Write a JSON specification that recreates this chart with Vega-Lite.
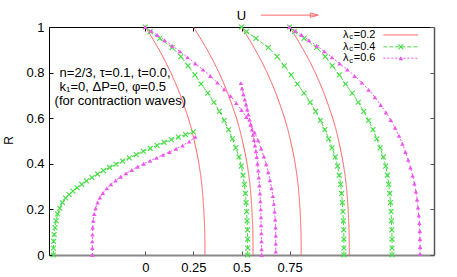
{
  "$schema": "https://vega.github.io/schema/vega-lite/v6.json",
  "width": 385,
  "height": 228,
  "autosize": "none",
  "padding": {"left": 49, "top": 27, "right": 23, "bottom": 22},
  "background": "white",
  "config": {
    "view": {"stroke": null},
    "font": "Liberation Sans",
    "axis": {
      "grid": false,
      "labelFont": "Liberation Sans",
      "labelFontSize": 13,
      "labelColor": "#000",
      "titleFont": "Liberation Sans",
      "titleFontSize": 12,
      "titleFontWeight": "normal",
      "titleColor": "#000",
      "tickColor": "#000",
      "domainColor": "#000",
      "tickSize": -4,
      "labelPadding": 9
    }
  },
  "datasets": {
    "curves": [
      {"c":"r1","l":"0.2","x":0,"R":1},{"c":"r1","l":"0.2","x":0.023,"R":0.97},{"c":"r1","l":"0.2","x":0.044,"R":0.94},{"c":"r1","l":"0.2","x":0.072,"R":0.9},{"c":"r1","l":"0.2","x":0.104,"R":0.85},{"c":"r1","l":"0.2","x":0.133,"R":0.8},{"c":"r1","l":"0.2","x":0.159,"R":0.75},{"c":"r1","l":"0.2","x":0.183,"R":0.7},{"c":"r1","l":"0.2","x":0.204,"R":0.65},{"c":"r1","l":"0.2","x":0.224,"R":0.6},{"c":"r1","l":"0.2","x":0.241,"R":0.55},{"c":"r1","l":"0.2","x":0.255,"R":0.5},{"c":"r1","l":"0.2","x":0.268,"R":0.45},{"c":"r1","l":"0.2","x":0.279,"R":0.4},{"c":"r1","l":"0.2","x":0.288,"R":0.35},{"c":"r1","l":"0.2","x":0.295,"R":0.3},{"c":"r1","l":"0.2","x":0.3,"R":0.25},{"c":"r1","l":"0.2","x":0.304,"R":0.2},{"c":"r1","l":"0.2","x":0.307,"R":0.15},{"c":"r1","l":"0.2","x":0.309,"R":0.1},{"c":"r1","l":"0.2","x":0.31,"R":0.05},{"c":"r1","l":"0.2","x":0.31,"R":0},
      {"c":"r2","l":"0.2","x":0.25,"R":1},{"c":"r2","l":"0.2","x":0.273,"R":0.97},{"c":"r2","l":"0.2","x":0.294,"R":0.94},{"c":"r2","l":"0.2","x":0.322,"R":0.9},{"c":"r2","l":"0.2","x":0.354,"R":0.85},{"c":"r2","l":"0.2","x":0.383,"R":0.8},{"c":"r2","l":"0.2","x":0.409,"R":0.75},{"c":"r2","l":"0.2","x":0.433,"R":0.7},{"c":"r2","l":"0.2","x":0.454,"R":0.65},{"c":"r2","l":"0.2","x":0.474,"R":0.6},{"c":"r2","l":"0.2","x":0.491,"R":0.55},{"c":"r2","l":"0.2","x":0.505,"R":0.5},{"c":"r2","l":"0.2","x":0.518,"R":0.45},{"c":"r2","l":"0.2","x":0.529,"R":0.4},{"c":"r2","l":"0.2","x":0.538,"R":0.35},{"c":"r2","l":"0.2","x":0.545,"R":0.3},{"c":"r2","l":"0.2","x":0.55,"R":0.25},{"c":"r2","l":"0.2","x":0.554,"R":0.2},{"c":"r2","l":"0.2","x":0.557,"R":0.15},{"c":"r2","l":"0.2","x":0.559,"R":0.1},{"c":"r2","l":"0.2","x":0.56,"R":0.05},{"c":"r2","l":"0.2","x":0.56,"R":0},
      {"c":"r3","l":"0.2","x":0.5,"R":1},{"c":"r3","l":"0.2","x":0.523,"R":0.97},{"c":"r3","l":"0.2","x":0.544,"R":0.94},{"c":"r3","l":"0.2","x":0.572,"R":0.9},{"c":"r3","l":"0.2","x":0.604,"R":0.85},{"c":"r3","l":"0.2","x":0.633,"R":0.8},{"c":"r3","l":"0.2","x":0.659,"R":0.75},{"c":"r3","l":"0.2","x":0.683,"R":0.7},{"c":"r3","l":"0.2","x":0.704,"R":0.65},{"c":"r3","l":"0.2","x":0.724,"R":0.6},{"c":"r3","l":"0.2","x":0.741,"R":0.55},{"c":"r3","l":"0.2","x":0.755,"R":0.5},{"c":"r3","l":"0.2","x":0.768,"R":0.45},{"c":"r3","l":"0.2","x":0.779,"R":0.4},{"c":"r3","l":"0.2","x":0.788,"R":0.35},{"c":"r3","l":"0.2","x":0.795,"R":0.3},{"c":"r3","l":"0.2","x":0.8,"R":0.25},{"c":"r3","l":"0.2","x":0.804,"R":0.2},{"c":"r3","l":"0.2","x":0.807,"R":0.15},{"c":"r3","l":"0.2","x":0.809,"R":0.1},{"c":"r3","l":"0.2","x":0.81,"R":0.05},{"c":"r3","l":"0.2","x":0.81,"R":0},
      {"c":"r4","l":"0.2","x":0.75,"R":1},{"c":"r4","l":"0.2","x":0.773,"R":0.97},{"c":"r4","l":"0.2","x":0.794,"R":0.94},{"c":"r4","l":"0.2","x":0.822,"R":0.9},{"c":"r4","l":"0.2","x":0.854,"R":0.85},{"c":"r4","l":"0.2","x":0.883,"R":0.8},{"c":"r4","l":"0.2","x":0.909,"R":0.75},{"c":"r4","l":"0.2","x":0.933,"R":0.7},{"c":"r4","l":"0.2","x":0.954,"R":0.65},{"c":"r4","l":"0.2","x":0.974,"R":0.6},{"c":"r4","l":"0.2","x":0.991,"R":0.55},{"c":"r4","l":"0.2","x":1.005,"R":0.5},{"c":"r4","l":"0.2","x":1.018,"R":0.45},{"c":"r4","l":"0.2","x":1.029,"R":0.4},{"c":"r4","l":"0.2","x":1.038,"R":0.35},{"c":"r4","l":"0.2","x":1.045,"R":0.3},{"c":"r4","l":"0.2","x":1.05,"R":0.25},{"c":"r4","l":"0.2","x":1.054,"R":0.2},{"c":"r4","l":"0.2","x":1.057,"R":0.15},{"c":"r4","l":"0.2","x":1.059,"R":0.1},{"c":"r4","l":"0.2","x":1.06,"R":0.05},{"c":"r4","l":"0.2","x":1.06,"R":0},

      {"c":"g1","l":"0.4","x":-0.477,"R":0},{"c":"g1","l":"0.4","x":-0.477,"R":0.03},{"c":"g1","l":"0.4","x":-0.476,"R":0.06},{"c":"g1","l":"0.4","x":-0.473,"R":0.09},{"c":"g1","l":"0.4","x":-0.469,"R":0.12},{"c":"g1","l":"0.4","x":-0.463,"R":0.15},{"c":"g1","l":"0.4","x":-0.455,"R":0.18},{"c":"g1","l":"0.4","x":-0.444,"R":0.205},{"c":"g1","l":"0.4","x":-0.43,"R":0.23},{"c":"g1","l":"0.4","x":-0.414,"R":0.25},{"c":"g1","l":"0.4","x":-0.396,"R":0.265},{"c":"g1","l":"0.4","x":-0.376,"R":0.28},{"c":"g1","l":"0.4","x":-0.354,"R":0.295},{"c":"g1","l":"0.4","x":-0.33,"R":0.31},{"c":"g1","l":"0.4","x":-0.305,"R":0.325},{"c":"g1","l":"0.4","x":-0.277,"R":0.34},{"c":"g1","l":"0.4","x":-0.248,"R":0.355},{"c":"g1","l":"0.4","x":-0.217,"R":0.37},{"c":"g1","l":"0.4","x":-0.185,"R":0.384},{"c":"g1","l":"0.4","x":-0.152,"R":0.398},{"c":"g1","l":"0.4","x":-0.118,"R":0.412},{"c":"g1","l":"0.4","x":-0.083,"R":0.426},{"c":"g1","l":"0.4","x":-0.047,"R":0.44},{"c":"g1","l":"0.4","x":-0.01,"R":0.455},{"c":"g1","l":"0.4","x":0.026,"R":0.468},{"c":"g1","l":"0.4","x":0.062,"R":0.481},{"c":"g1","l":"0.4","x":0.098,"R":0.494},{"c":"g1","l":"0.4","x":0.135,"R":0.506},{"c":"g1","l":"0.4","x":0.172,"R":0.517},{"c":"g1","l":"0.4","x":0.21,"R":0.528},{"c":"g1","l":"0.4","x":0.25,"R":0.54},

      {"c":"g2","l":"0.4","x":0,"R":1},{"c":"g2","l":"0.4","x":0.026,"R":0.98},{"c":"g2","l":"0.4","x":0.075,"R":0.95},{"c":"g2","l":"0.4","x":0.14,"R":0.91},{"c":"g2","l":"0.4","x":0.185,"R":0.87},{"c":"g2","l":"0.4","x":0.222,"R":0.83},{"c":"g2","l":"0.4","x":0.258,"R":0.79},{"c":"g2","l":"0.4","x":0.29,"R":0.75},{"c":"g2","l":"0.4","x":0.325,"R":0.71},{"c":"g2","l":"0.4","x":0.357,"R":0.67},{"c":"g2","l":"0.4","x":0.385,"R":0.63},{"c":"g2","l":"0.4","x":0.41,"R":0.59},{"c":"g2","l":"0.4","x":0.433,"R":0.55},{"c":"g2","l":"0.4","x":0.453,"R":0.51},{"c":"g2","l":"0.4","x":0.47,"R":0.47},{"c":"g2","l":"0.4","x":0.487,"R":0.43},{"c":"g2","l":"0.4","x":0.499,"R":0.39},{"c":"g2","l":"0.4","x":0.508,"R":0.35},{"c":"g2","l":"0.4","x":0.515,"R":0.31},{"c":"g2","l":"0.4","x":0.52,"R":0.27},{"c":"g2","l":"0.4","x":0.524,"R":0.23},{"c":"g2","l":"0.4","x":0.527,"R":0.19},{"c":"g2","l":"0.4","x":0.529,"R":0.15},{"c":"g2","l":"0.4","x":0.531,"R":0.11},{"c":"g2","l":"0.4","x":0.532,"R":0.07},{"c":"g2","l":"0.4","x":0.532,"R":0.03},{"c":"g2","l":"0.4","x":0.532,"R":0},

      {"c":"g3","l":"0.4","x":0.5,"R":1},{"c":"g3","l":"0.4","x":0.526,"R":0.98},{"c":"g3","l":"0.4","x":0.575,"R":0.95},{"c":"g3","l":"0.4","x":0.64,"R":0.91},{"c":"g3","l":"0.4","x":0.685,"R":0.87},{"c":"g3","l":"0.4","x":0.722,"R":0.83},{"c":"g3","l":"0.4","x":0.758,"R":0.79},{"c":"g3","l":"0.4","x":0.79,"R":0.75},{"c":"g3","l":"0.4","x":0.825,"R":0.71},{"c":"g3","l":"0.4","x":0.857,"R":0.67},{"c":"g3","l":"0.4","x":0.885,"R":0.63},{"c":"g3","l":"0.4","x":0.91,"R":0.59},{"c":"g3","l":"0.4","x":0.933,"R":0.55},{"c":"g3","l":"0.4","x":0.953,"R":0.51},{"c":"g3","l":"0.4","x":0.97,"R":0.47},{"c":"g3","l":"0.4","x":0.987,"R":0.43},{"c":"g3","l":"0.4","x":0.999,"R":0.39},{"c":"g3","l":"0.4","x":1.008,"R":0.35},{"c":"g3","l":"0.4","x":1.015,"R":0.31},{"c":"g3","l":"0.4","x":1.02,"R":0.27},{"c":"g3","l":"0.4","x":1.024,"R":0.23},{"c":"g3","l":"0.4","x":1.027,"R":0.19},{"c":"g3","l":"0.4","x":1.029,"R":0.15},{"c":"g3","l":"0.4","x":1.031,"R":0.11},{"c":"g3","l":"0.4","x":1.032,"R":0.07},{"c":"g3","l":"0.4","x":1.032,"R":0.03},{"c":"g3","l":"0.4","x":1.032,"R":0},

      {"c":"g4","l":"0.4","x":0.75,"R":1},{"c":"g4","l":"0.4","x":0.776,"R":0.98},{"c":"g4","l":"0.4","x":0.825,"R":0.95},{"c":"g4","l":"0.4","x":0.89,"R":0.91},{"c":"g4","l":"0.4","x":0.935,"R":0.87},{"c":"g4","l":"0.4","x":0.972,"R":0.83},{"c":"g4","l":"0.4","x":1.008,"R":0.79},{"c":"g4","l":"0.4","x":1.04,"R":0.75},{"c":"g4","l":"0.4","x":1.075,"R":0.71},{"c":"g4","l":"0.4","x":1.107,"R":0.67},{"c":"g4","l":"0.4","x":1.135,"R":0.63},{"c":"g4","l":"0.4","x":1.16,"R":0.59},{"c":"g4","l":"0.4","x":1.183,"R":0.55},{"c":"g4","l":"0.4","x":1.203,"R":0.51},{"c":"g4","l":"0.4","x":1.22,"R":0.47},{"c":"g4","l":"0.4","x":1.237,"R":0.43},{"c":"g4","l":"0.4","x":1.249,"R":0.39},{"c":"g4","l":"0.4","x":1.258,"R":0.35},{"c":"g4","l":"0.4","x":1.265,"R":0.31},{"c":"g4","l":"0.4","x":1.27,"R":0.27},{"c":"g4","l":"0.4","x":1.274,"R":0.23},{"c":"g4","l":"0.4","x":1.277,"R":0.19},{"c":"g4","l":"0.4","x":1.279,"R":0.15},{"c":"g4","l":"0.4","x":1.281,"R":0.11},{"c":"g4","l":"0.4","x":1.282,"R":0.07},{"c":"g4","l":"0.4","x":1.282,"R":0.03},{"c":"g4","l":"0.4","x":1.282,"R":0},

      {"c":"m1","l":"0.6","x":-0.275,"R":0},{"c":"m1","l":"0.6","x":-0.275,"R":0.03},{"c":"m1","l":"0.6","x":-0.275,"R":0.06},{"c":"m1","l":"0.6","x":-0.274,"R":0.09},{"c":"m1","l":"0.6","x":-0.273,"R":0.12},{"c":"m1","l":"0.6","x":-0.27,"R":0.15},{"c":"m1","l":"0.6","x":-0.265,"R":0.18},{"c":"m1","l":"0.6","x":-0.258,"R":0.205},{"c":"m1","l":"0.6","x":-0.248,"R":0.23},{"c":"m1","l":"0.6","x":-0.236,"R":0.252},{"c":"m1","l":"0.6","x":-0.22,"R":0.272},{"c":"m1","l":"0.6","x":-0.2,"R":0.292},{"c":"m1","l":"0.6","x":-0.178,"R":0.31},{"c":"m1","l":"0.6","x":-0.154,"R":0.327},{"c":"m1","l":"0.6","x":-0.128,"R":0.343},{"c":"m1","l":"0.6","x":-0.1,"R":0.358},{"c":"m1","l":"0.6","x":-0.07,"R":0.373},{"c":"m1","l":"0.6","x":-0.04,"R":0.387},{"c":"m1","l":"0.6","x":-0.008,"R":0.4},{"c":"m1","l":"0.6","x":0.025,"R":0.413},{"c":"m1","l":"0.6","x":0.058,"R":0.426},{"c":"m1","l":"0.6","x":0.092,"R":0.439},{"c":"m1","l":"0.6","x":0.126,"R":0.452},{"c":"m1","l":"0.6","x":0.16,"R":0.466},{"c":"m1","l":"0.6","x":0.194,"R":0.48},{"c":"m1","l":"0.6","x":0.228,"R":0.497},{"c":"m1","l":"0.6","x":0.26,"R":0.518},

      {"c":"m2","l":"0.6","x":0,"R":1},{"c":"m2","l":"0.6","x":0.03,"R":0.983},{"c":"m2","l":"0.6","x":0.062,"R":0.965},{"c":"m2","l":"0.6","x":0.1,"R":0.942},{"c":"m2","l":"0.6","x":0.14,"R":0.918},{"c":"m2","l":"0.6","x":0.18,"R":0.893},{"c":"m2","l":"0.6","x":0.22,"R":0.867},{"c":"m2","l":"0.6","x":0.26,"R":0.84},{"c":"m2","l":"0.6","x":0.3,"R":0.813},{"c":"m2","l":"0.6","x":0.338,"R":0.785},{"c":"m2","l":"0.6","x":0.375,"R":0.756},{"c":"m2","l":"0.6","x":0.41,"R":0.727},{"c":"m2","l":"0.6","x":0.443,"R":0.697},{"c":"m2","l":"0.6","x":0.473,"R":0.666},{"c":"m2","l":"0.6","x":0.5,"R":0.636},{"c":"m2","l":"0.6","x":0.525,"R":0.605},{"c":"m2","l":"0.6","x":0.548,"R":0.572},{"c":"m2","l":"0.6","x":0.568,"R":0.538},{"c":"m2","l":"0.6","x":0.586,"R":0.503},{"c":"m2","l":"0.6","x":0.602,"R":0.467},{"c":"m2","l":"0.6","x":0.616,"R":0.432},{"c":"m2","l":"0.6","x":0.628,"R":0.398},{"c":"m2","l":"0.6","x":0.639,"R":0.363},{"c":"m2","l":"0.6","x":0.648,"R":0.328},{"c":"m2","l":"0.6","x":0.656,"R":0.293},{"c":"m2","l":"0.6","x":0.663,"R":0.258},{"c":"m2","l":"0.6","x":0.668,"R":0.224},{"c":"m2","l":"0.6","x":0.672,"R":0.19},{"c":"m2","l":"0.6","x":0.675,"R":0.155},{"c":"m2","l":"0.6","x":0.677,"R":0.12},{"c":"m2","l":"0.6","x":0.678,"R":0.085},{"c":"m2","l":"0.6","x":0.678,"R":0.05},{"c":"m2","l":"0.6","x":0.678,"R":0.015},

      {"c":"m3","l":"0.6","x":0.497,"R":0.754},{"c":"m3","l":"0.6","x":0.503,"R":0.73},{"c":"m3","l":"0.6","x":0.51,"R":0.705},{"c":"m3","l":"0.6","x":0.517,"R":0.682},{"c":"m3","l":"0.6","x":0.524,"R":0.66},{"c":"m3","l":"0.6","x":0.53,"R":0.638},{"c":"m3","l":"0.6","x":0.536,"R":0.616},{"c":"m3","l":"0.6","x":0.542,"R":0.594},{"c":"m3","l":"0.6","x":0.548,"R":0.572},{"c":"m3","l":"0.6","x":0.554,"R":0.55},{"c":"m3","l":"0.6","x":0.56,"R":0.527},{"c":"m3","l":"0.6","x":0.565,"R":0.504},{"c":"m3","l":"0.6","x":0.57,"R":0.48},{"c":"m3","l":"0.6","x":0.575,"R":0.455},{"c":"m3","l":"0.6","x":0.579,"R":0.43},{"c":"m3","l":"0.6","x":0.583,"R":0.4},{"c":"m3","l":"0.6","x":0.587,"R":0.37},{"c":"m3","l":"0.6","x":0.59,"R":0.34},{"c":"m3","l":"0.6","x":0.593,"R":0.305},{"c":"m3","l":"0.6","x":0.596,"R":0.27},{"c":"m3","l":"0.6","x":0.598,"R":0.235},{"c":"m3","l":"0.6","x":0.6,"R":0.2},{"c":"m3","l":"0.6","x":0.601,"R":0.165},{"c":"m3","l":"0.6","x":0.602,"R":0.13},{"c":"m3","l":"0.6","x":0.603,"R":0.095},{"c":"m3","l":"0.6","x":0.604,"R":0.06},{"c":"m3","l":"0.6","x":0.604,"R":0.025},{"c":"m3","l":"0.6","x":0.605,"R":0},

      {"c":"m4","l":"0.6","x":0.75,"R":1},{"c":"m4","l":"0.6","x":0.78,"R":0.983},{"c":"m4","l":"0.6","x":0.812,"R":0.965},{"c":"m4","l":"0.6","x":0.85,"R":0.942},{"c":"m4","l":"0.6","x":0.89,"R":0.918},{"c":"m4","l":"0.6","x":0.93,"R":0.893},{"c":"m4","l":"0.6","x":0.97,"R":0.867},{"c":"m4","l":"0.6","x":1.01,"R":0.84},{"c":"m4","l":"0.6","x":1.05,"R":0.813},{"c":"m4","l":"0.6","x":1.088,"R":0.785},{"c":"m4","l":"0.6","x":1.125,"R":0.756},{"c":"m4","l":"0.6","x":1.16,"R":0.725},{"c":"m4","l":"0.6","x":1.193,"R":0.692},{"c":"m4","l":"0.6","x":1.223,"R":0.658},{"c":"m4","l":"0.6","x":1.25,"R":0.625},{"c":"m4","l":"0.6","x":1.275,"R":0.592},{"c":"m4","l":"0.6","x":1.298,"R":0.558},{"c":"m4","l":"0.6","x":1.318,"R":0.523},{"c":"m4","l":"0.6","x":1.336,"R":0.488},{"c":"m4","l":"0.6","x":1.352,"R":0.452},{"c":"m4","l":"0.6","x":1.366,"R":0.417},{"c":"m4","l":"0.6","x":1.378,"R":0.383},{"c":"m4","l":"0.6","x":1.389,"R":0.348},{"c":"m4","l":"0.6","x":1.398,"R":0.313},{"c":"m4","l":"0.6","x":1.406,"R":0.278},{"c":"m4","l":"0.6","x":1.412,"R":0.243},{"c":"m4","l":"0.6","x":1.417,"R":0.208},{"c":"m4","l":"0.6","x":1.421,"R":0.174},{"c":"m4","l":"0.6","x":1.424,"R":0.14},{"c":"m4","l":"0.6","x":1.426,"R":0.105},{"c":"m4","l":"0.6","x":1.427,"R":0.07},{"c":"m4","l":"0.6","x":1.428,"R":0.035},{"c":"m4","l":"0.6","x":1.428,"R":0.005}
    ],
    "leg": [
      {"l":"0.2","t":"=0.2","R":0.965},
      {"l":"0.4","t":"=0.4","R":0.913},
      {"l":"0.6","t":"=0.6","R":0.863}
    ],
    "ann": [
      {"t":"n=2/3, τ=0.1, t=0.0,","x":-0.445,"R":0.798},
      {"t":"k₁=0, ΔP=0, φ=0.5","x":-0.445,"R":0.737},
      {"t":"(for contraction waves)","x":-0.471,"R":0.675}
    ],
    "u": [{"t":"U","x":0.5,"R":1.048,"x1":0.6,"x2":0.897,"xh":0.878,"Ra":1.052}]
  },
  "layer": [
    {
      "data": {"name": "curves"},
      "mark": {"type": "line", "strokeWidth": 1},
      "encoding": {
        "x": {"field": "x", "type": "quantitative",
              "scale": {"domain": [-0.5, 1.5], "nice": false, "zero": false},
              "axis": {"orient": "bottom", "values": [0, 0.25, 0.5, 0.75], "labelExpr": "'' + datum.value", "title": null, "domainColor": "#888", "domainWidth": 2, "tickColor": "#555", "labelFlush": false, "labelOverlap": false, "labelPadding": 10}},
        "y": {"field": "R", "type": "quantitative",
              "scale": {"domain": [0, 1], "nice": false, "zero": false},
              "axis": {"orient": "left", "values": [0, 0.2, 0.4, 0.6, 0.8, 1], "labelExpr": "'' + datum.value", "title": "R", "titleX": -37, "titleY": 113, "titleAngle": -90, "titleAlign": "center", "titleBaseline": "alphabetic", "labelFlush": false, "labelOverlap": false}},
        "color": {"field": "l", "type": "nominal", "scale": {"domain": ["0.2", "0.4", "0.6"], "range": ["#ff5a5a", "#44dd44", "#ee55ee"]}, "legend": null},
        "strokeDash": {"field": "l", "type": "nominal", "scale": {"domain": ["0.2", "0.4", "0.6"], "range": [[1, 0], [4, 2], [2, 2]]}, "legend": null},
        "detail": {"field": "c"},
        "order": {"value": null}
      }
    },
    {
      "data": {"name": "curves"},
      "transform": [{"filter": "datum.l == '0.4'"}],
      "mark": {"type": "point", "shape": "M-1,-1L1,1M-1,1L1,-1", "filled": false, "size": 24, "strokeWidth": 1.1, "opacity": 1},
      "encoding": {
        "x": {"field": "x", "type": "quantitative",
              "axis": {"orient": "top", "values": [0, 0.25, 0.5, 0.75], "labels": false, "title": null, "domainColor": "#000"}},
        "y": {"field": "R", "type": "quantitative",
              "axis": {"orient": "right", "values": [0, 0.2, 0.4, 0.6, 0.8, 1], "labels": false, "title": null, "domainColor": "#555", "domainWidth": 1.5, "tickColor": "#555"}},
        "color": {"field": "l", "type": "nominal", "legend": null}
      }
    },
    {
      "data": {"name": "curves"},
      "transform": [{"filter": "datum.l == '0.6'"}],
      "mark": {"type": "point", "shape": "triangle-up", "filled": true, "size": 20, "opacity": 1},
      "encoding": {
        "x": {"field": "x", "type": "quantitative", "axis": null},
        "y": {"field": "R", "type": "quantitative", "axis": null},
        "color": {"field": "l", "type": "nominal", "legend": null}
      }
    },
    {
      "data": {"name": "leg"},
      "mark": {"type": "rule", "strokeWidth": 1},
      "encoding": {
        "x": {"datum": 1.237, "type": "quantitative", "axis": null},
        "x2": {"datum": 1.418},
        "y": {"field": "R", "type": "quantitative", "axis": null},
        "color": {"field": "l", "type": "nominal", "legend": null},
        "strokeDash": {"field": "l", "type": "nominal", "legend": null}
      }
    },
    {
      "data": {"name": "leg"},
      "transform": [{"filter": "datum.l == '0.4'"}],
      "mark": {"type": "point", "shape": "M-1,-1L1,1M-1,1L1,-1", "filled": false, "size": 24, "strokeWidth": 1.1, "opacity": 1},
      "encoding": {
        "x": {"datum": 1.328, "type": "quantitative", "axis": null},
        "y": {"field": "R", "type": "quantitative", "axis": null},
        "color": {"field": "l", "type": "nominal", "legend": null}
      }
    },
    {
      "data": {"name": "leg"},
      "transform": [{"filter": "datum.l == '0.6'"}],
      "mark": {"type": "point", "shape": "triangle-up", "filled": true, "size": 20, "opacity": 1},
      "encoding": {
        "x": {"datum": 1.328, "type": "quantitative", "axis": null},
        "y": {"field": "R", "type": "quantitative", "axis": null},
        "color": {"field": "l", "type": "nominal", "legend": null}
      }
    },
    {
      "data": {"name": "leg"},
      "mark": {"type": "text", "align": "right", "baseline": "middle", "fontSize": 11, "font": "Liberation Sans", "color": "#000"},
      "encoding": {
        "x": {"datum": 1.196, "type": "quantitative", "axis": null},
        "y": {"field": "R", "type": "quantitative", "axis": null},
        "text": {"field": "t"}
      }
    },
    {
      "data": {"name": "leg"},
      "mark": {"type": "text", "align": "right", "baseline": "middle", "fontSize": 7.5, "font": "Liberation Sans", "color": "#000", "dx": -22.5, "dy": 2.5},
      "encoding": {
        "x": {"datum": 1.196, "type": "quantitative", "axis": null},
        "y": {"field": "R", "type": "quantitative", "axis": null},
        "text": {"value": "c"}
      }
    },
    {
      "data": {"name": "leg"},
      "mark": {"type": "text", "align": "right", "baseline": "middle", "fontSize": 11, "font": "Liberation Sans", "color": "#000", "dx": -27},
      "encoding": {
        "x": {"datum": 1.196, "type": "quantitative", "axis": null},
        "y": {"field": "R", "type": "quantitative", "axis": null},
        "text": {"value": "λ"}
      }
    },
    {
      "data": {"name": "ann"},
      "mark": {"type": "text", "align": "left", "baseline": "middle", "fontSize": 13, "font": "Liberation Sans", "color": "#000"},
      "encoding": {
        "x": {"field": "x", "type": "quantitative", "axis": null},
        "y": {"field": "R", "type": "quantitative", "axis": null},
        "text": {"field": "t"}
      }
    },
    {
      "data": {"name": "u"},
      "mark": {"type": "text", "align": "center", "baseline": "middle", "fontSize": 13, "font": "Liberation Sans", "color": "#000"},
      "encoding": {
        "x": {"field": "x", "type": "quantitative", "axis": null},
        "y": {"field": "R", "type": "quantitative", "axis": null},
        "text": {"field": "t"}
      }
    },
    {
      "data": {"name": "u"},
      "mark": {"type": "rule", "color": "#ff6b6b", "strokeWidth": 1},
      "encoding": {
        "x": {"field": "x1", "type": "quantitative", "axis": null},
        "x2": {"field": "x2"},
        "y": {"field": "Ra", "type": "quantitative", "axis": null}
      }
    },
    {
      "data": {"name": "u"},
      "mark": {"type": "point", "shape": "M-1,-0.55L1,0L-1,0.55Z", "filled": false, "stroke": "#ff6b6b", "strokeWidth": 1, "size": 64, "opacity": 1},
      "encoding": {
        "x": {"field": "xh", "type": "quantitative", "axis": null},
        "y": {"field": "Ra", "type": "quantitative", "axis": null}
      }
    }
  ],
  "resolve": {"axis": {"x": "independent", "y": "independent"}}
}
